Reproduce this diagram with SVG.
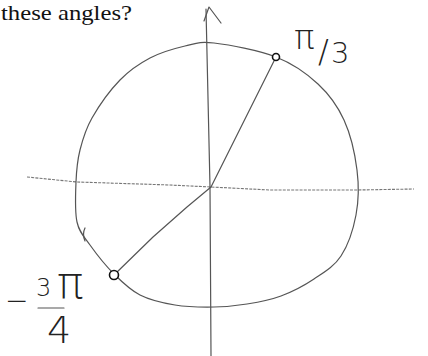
<svg xmlns="http://www.w3.org/2000/svg" width="428" height="356" viewBox="0 0 428 356">
<style>
.pen{fill:none;stroke:#555;stroke-width:1.2;stroke-linecap:round;stroke-linejoin:round}
.dot{fill:none;stroke:#777;stroke-width:1.1;stroke-dasharray:3 1.2}
.pt{fill:#fff;stroke:#111;stroke-width:1.6}
.hand{font-family:"DejaVu Sans","Liberation Sans",sans-serif;font-weight:200;fill:#222}
.serif{font-family:"Liberation Serif","DejaVu Serif",serif;fill:#111}
</style>
<rect width="428" height="356" fill="#fff"/>
<text class="serif" x="1" y="20" font-size="22" textLength="131" lengthAdjust="spacingAndGlyphs">these angles?</text>
<g id="axes">
<path class="dot" d="M27,177 L77,182 L170,185 L211,187 L270,190 L357,190 L414,189"/>
<path class="pen" d="M206,9 L210,187 L211,356"/>
<path class="pen" d="M204,21 L209,7 L221,23"/>
</g>
<g id="circle">
<path class="pen" stroke="#666" d="M214,43 C229.2,44.8 258.7,50.2 276,57 S306.7,73.5 318,84 S337.5,105.7 344,120 S355,154.2 357,170 S358.7,200.7 356,215 S348,245.3 341,256 S324,272.3 314,279 S292.2,291.8 281,296 S258.2,302.2 247,304 S226,306.8 214,307 S187.3,307 175,305 S150.2,300.2 140,295 S122.3,282.3 114,274 S96.2,253.7 90,245 S79.3,232.5 77,222 S75.5,194 76,182 S77.3,160.7 80,150 S85.3,129.7 92,118 S110.3,90 120,80 S139.2,63.7 150,58 S174.3,48.5 185,46 S198.8,41.2 214,43"/>
<path class="pen" d="M85,228 Q82,234 85,241"/>
</g>
<g id="connectors">
<path class="pen" d="M211,187 L276,57"/>
<path class="pen" d="M211,187 L187,207 L153,237 L114,275"/>
</g>
<g id="point-pi3">
<circle class="pt" cx="276" cy="57" r="3.5"/>
<text class="hand"><tspan x="294" y="49" font-size="34">π</tspan><tspan x="318" y="62" font-size="32">/</tspan><tspan x="331" y="63" font-size="29">3</tspan></text>
</g>
<g id="point-3pi4">
<circle class="pt" cx="114" cy="275" r="4.5"/>
<text class="hand"><tspan x="5" y="310" font-size="28">−</tspan><tspan x="36" y="296" font-size="24">3</tspan><tspan x="57" y="298" font-size="44">π</tspan><tspan x="47" y="343" font-size="38">4</tspan></text>
<path class="pen" d="M38,308 L64,308"/>
</g>
</svg>
